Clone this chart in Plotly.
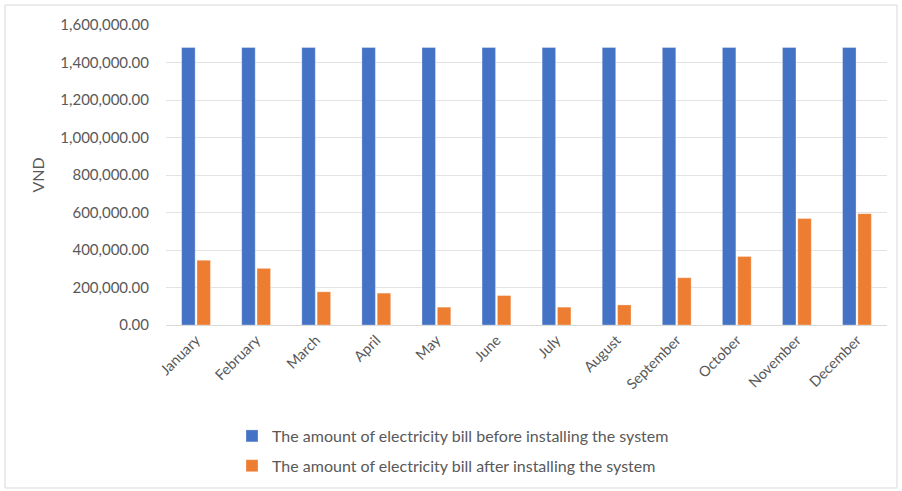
import plotly.graph_objects as go

months = ["January", "February", "March", "April", "May", "June", "July",
          "August", "September", "October", "November", "December"]
before = [1480000] * 12
after = [345000, 302000, 177000, 170000, 95000, 157000, 95000, 107000,
         252000, 365000, 568000, 594000]
y_ticks = [0, 200000, 400000, 600000, 800000, 1000000, 1200000, 1400000, 1600000]
y_tick_text = [f"{v:,.2f}" for v in y_ticks]

FONT = "Lato"
GREY = "#595959"

fig = go.Figure()
fig.add_trace(go.Bar(x=months, y=before, name="The amount of electricity bill before installing the system",
                     marker=dict(color="#4472C4", line=dict(color="rgba(255,255,255,0.5)", width=0.6)),
                     legendgroup="a"))
fig.add_trace(go.Bar(x=months, y=after, name="The amount of electricity bill after installing the system",
                     marker=dict(color="#ED7D31", line=dict(color="rgba(255,255,255,0.5)", width=0.6)),
                     legendgroup="b"))

W, H = 902, 491
L, R, T, B = 166, 15, 25, 166
pw, ph = W - L - R, H - T - B

def px_x(p):
    return (p - L) / pw

def px_y(p):
    return (H - B - p) / ph

fig.update_layout(
    width=W, height=H,
    margin=dict(l=L, r=R, t=T, b=B, autoexpand=False),
    paper_bgcolor="white", plot_bgcolor="white",
    barmode="group", bargap=0.49, bargroupgap=0.12,
    font=dict(family=FONT, size=14, color=GREY),
    showlegend=True,
    legend=dict(x=px_x(232), y=px_y(419), xanchor="left", yanchor="top",
                orientation="v", tracegroupgap=6,
                font=dict(family=FONT, size=16, color=GREY),
                bgcolor="rgba(0,0,0,0)"),
    xaxis=dict(tickangle=-45, showgrid=False, showline=True, linecolor="#D9D9D9",
               linewidth=1, ticks="", tickfont=dict(family=FONT, size=14.5, color=GREY)),
    yaxis=dict(range=[0, 1600000], tickvals=y_ticks, ticktext=y_tick_text,
               showgrid=True, gridcolor="#E3E3E3", gridwidth=1, zeroline=False,
               showline=False, ticks="", ticklabelstandoff=16,
               tickfont=dict(family=FONT, size=15, color=GREY),
               title=dict(text="VND", font=dict(family=FONT, size=16, color=GREY), standoff=11)),
    shapes=[dict(type="rect", xref="paper", yref="paper",
                 x0=px_x(5), x1=px_x(897), y0=px_y(488), y1=px_y(5),
                 line=dict(color="#D9D9D9", width=1), fillcolor="rgba(0,0,0,0)", layer="below")],
)

fig.write_html("out.html")
